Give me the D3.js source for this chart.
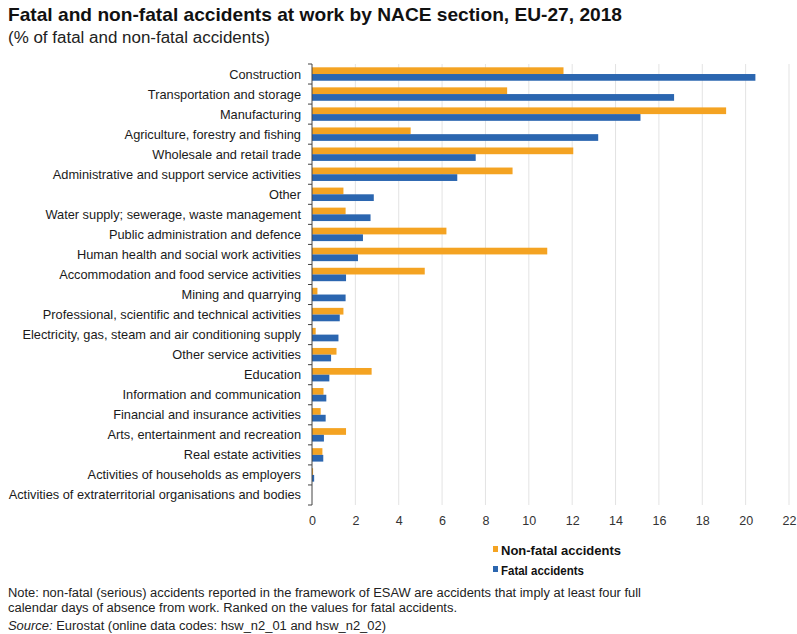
<!DOCTYPE html>
<html>
<head>
<meta charset="utf-8">
<script src="https://cdn.jsdelivr.net/npm/d3@7"></script>
<style>
  body { margin: 0; background: #fff; }
  svg { display: block; }
  text { font-family: "Liberation Sans", Arial, sans-serif; }
</style>
</head>
<body>
<svg width="797" height="634"></svg>
<script>
var svg = d3.select("svg"),
    width = +svg.attr("width"),
    height = +svg.attr("height");

// categories ranked on fatal accidents
var sections = [
  "Construction",
  "Transportation and storage",
  "Manufacturing",
  "Agriculture, forestry and fishing",
  "Wholesale and retail trade",
  "Administrative and support service activities",
  "Other",
  "Water supply; sewerage, waste management",
  "Public administration and defence",
  "Human health and social work activities",
  "Accommodation and food service activities",
  "Mining and quarrying",
  "Professional, scientific and technical activities",
  "Electricity, gas, steam and air conditioning supply",
  "Other service activities",
  "Education",
  "Information and communication",
  "Financial and insurance activities",
  "Arts, entertainment and recreation",
  "Real estate activities",
  "Activities of households as employers",
  "Activities of extraterritorial organisations and bodies"
];
var nonFatal = [11.6, 9.0, 19.1, 4.55, 12.05, 9.25, 1.45, 1.55, 6.2, 10.85, 5.2, 0.25, 1.45, 0.17, 1.13, 2.75, 0.53, 0.4, 1.57, 0.48, 0.05, 0];
var fatal    = [20.45, 16.7, 15.15, 13.2, 7.55, 6.7, 2.85, 2.7, 2.35, 2.12, 1.57, 1.55, 1.28, 1.22, 0.88, 0.8, 0.66, 0.63, 0.55, 0.52, 0.1, 0];
var seriesNames = ["Non-fatal accidents", "Fatal accidents"];
var xTicks = [0, 2, 4, 6, 8, 10, 12, 14, 16, 18, 20, 22];

var colors = ["#f4a322", "#2b66b0"];

var rows = sections.map(function(s, i) {
  return {name: s, values: [nonFatal[i], fatal[i]]};
});

var plotLeft = 312, plotRight = 789, plotTop = 64, plotBottom = 505;

var x = d3.scaleLinear().domain([0, 22]).range([plotLeft, plotRight]);
var y = d3.scaleBand().domain(sections).range([plotTop, plotBottom]).paddingInner(0.33).paddingOuter(0.165);
var ySub = d3.scaleBand().domain([0, 1]).range([0, y.bandwidth()]);

// squeeze a text to a given width (source uses a narrow face)
function fit(sel, w) {
  sel.attr("textLength", w).attr("lengthAdjust", "spacingAndGlyphs");
}

// title
svg.append("text")
  .attr("x", 8).attr("y", 21)
  .style("font-size", "19px").style("font-weight", "bold").attr("fill", "#111")
  .text("Fatal and non-fatal accidents at work by NACE section, EU-27, 2018")
  .call(fit, 614);
svg.append("text")
  .attr("x", 8).attr("y", 43)
  .style("font-size", "16px").attr("fill", "#222")
  .text("(% of fatal and non-fatal accidents)")
  .call(fit, 262);

// gridlines
svg.append("g")
  .selectAll("line")
  .data(xTicks.slice(1))
  .enter().append("line")
  .attr("x1", function(d) { return x(d); })
  .attr("x2", function(d) { return x(d); })
  .attr("y1", plotTop).attr("y2", plotBottom)
  .attr("stroke", "#e3e3e3").attr("stroke-width", 1);

// bars
var group = svg.append("g")
  .selectAll("g")
  .data(rows)
  .enter().append("g")
  .attr("transform", function(d) { return "translate(0," + y(d.name) + ")"; });

group.selectAll("rect")
  .data(function(d) { return d.values; })
  .enter().append("rect")
  .attr("x", x(0))
  .attr("y", function(d, i) { return ySub(i); })
  .attr("width", function(d) { return x(d) - x(0); })
  .attr("height", ySub.bandwidth())
  .attr("fill", function(d, i) { return colors[i]; });

// y axis: line and ticks at band boundaries
var yAxis = svg.append("g");
yAxis.append("line")
  .attr("x1", plotLeft).attr("x2", plotLeft).attr("y1", plotTop).attr("y2", plotBottom)
  .attr("stroke", "#444").attr("stroke-width", 1);
var step = (plotBottom - plotTop) / sections.length;
yAxis.selectAll("line.tick")
  .data(d3.range(sections.length + 1))
  .enter().append("line")
  .attr("class", "tick")
  .attr("x1", plotLeft - 4).attr("x2", plotLeft)
  .attr("y1", function(d) { return plotTop + d * step; })
  .attr("y2", function(d) { return plotTop + d * step; })
  .attr("stroke", "#444");
yAxis.selectAll("text")
  .data(sections)
  .enter().append("text")
  .attr("x", plotLeft - 11)
  .attr("y", function(d) { return y(d) + y.bandwidth() / 2; })
  .attr("dy", "0.35em")
  .attr("text-anchor", "end")
  .style("font-size", "12.8px")
  .attr("fill", "#1a1a1a")
  .text(function(d) { return d; });

// x axis labels
svg.append("g")
  .attr("transform", "translate(0," + plotBottom + ")")
  .call(d3.axisBottom(x).tickValues(xTicks).tickSize(0).tickPadding(11))
  .call(function(g) { g.select(".domain").remove(); })
  .selectAll("text")
  .style("font-family", "'Liberation Sans', Arial, sans-serif")
  .style("font-size", "12.5px")
  .attr("fill", "#333");

// legend
var legendW = [120, 83];
var legend = svg.append("g")
  .selectAll("g")
  .data(seriesNames)
  .enter().append("g")
  .attr("transform", function(d, i) { return "translate(493," + (550 + i * 20) + ")"; });
legend.append("rect")
  .attr("x", 0).attr("y", -4).attr("width", 5).attr("height", 6)
  .attr("fill", function(d, i) { return colors[i]; });
legend.append("text")
  .attr("x", 8).attr("y", 0).attr("dy", "0.35em")
  .style("font-size", "13.5px").style("font-weight", "bold").attr("fill", "#111")
  .text(function(d) { return d; })
  .each(function(d, i) { d3.select(this).call(fit, legendW[i]); });

// note and source
var notes = [
  "Note: non-fatal (serious) accidents reported in the framework of ESAW are accidents that imply at least four full",
  "calendar days of absence from work. Ranked on the values for fatal accidents."
];
var noteW = [633, 449];
svg.append("g").selectAll("text")
  .data(notes)
  .enter().append("text")
  .attr("x", 8).attr("y", function(d, i) { return 597 + i * 15; })
  .style("font-size", "12.5px").attr("fill", "#222")
  .text(function(d) { return d; })
  .each(function(d, i) { d3.select(this).call(fit, noteW[i]); });

var src = svg.append("text")
  .attr("x", 8).attr("y", 630)
  .style("font-size", "12.5px").attr("fill", "#222")
  .call(fit, 378);
src.append("tspan").style("font-style", "italic").text("Source:");
src.append("tspan").text(" Eurostat (online data codes: hsw_n2_01 and hsw_n2_02)");
</script>
</body>
</html>
